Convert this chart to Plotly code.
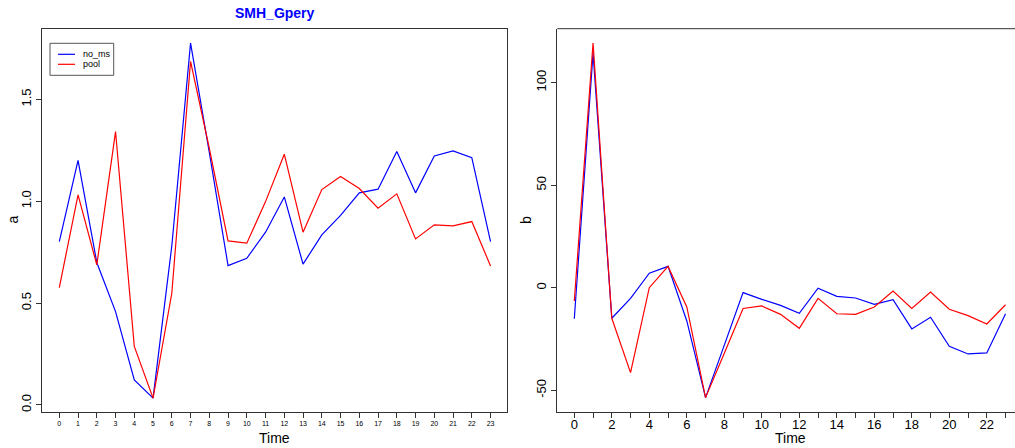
import plotly.graph_objects as go

# ---- data -------------------------------------------------------------
time = list(range(24))

a_no_ms = [0.802, 1.201, 0.699, 0.458, 0.123, 0.033, 0.78, 1.776, 1.24, 0.684,
           0.720, 0.848, 1.021, 0.691, 0.835, 0.930, 1.041, 1.059, 1.244, 1.041,
           1.222, 1.247, 1.214, 0.802]
a_pool = [0.576, 1.031, 0.687, 1.342, 0.287, 0.033, 0.548, 1.686, 1.26, 0.805,
          0.794, 0.998, 1.231, 0.848, 1.057, 1.121, 1.062, 0.966, 1.036, 0.815,
          0.884, 0.879, 0.900, 0.682]

b_no_ms = [-15.1, 114.4, -14.9, -5.2, 7.1, 10.4, -16.2, -53.6, -28.0, -2.4,
           -5.7, -8.6, -12.5, -0.2, -4.2, -5.0, -8.1, -5.8, -20.1, -14.4,
           -28.6, -32.3, -31.8, -12.7]
b_pool = [-6.5, 119.3, -14.9, -41.4, 0.0, 10.4, -9.4, -53.6, -32.0, -10.1,
          -8.9, -13.0, -19.8, -5.2, -12.7, -13.0, -9.4, -1.6, -10.1, -2.1,
          -10.5, -13.6, -17.7, -8.3]

a_ticks = [0.0, 0.5, 1.0, 1.5]
b_ticks = [-50, 0, 50, 100]
b_ticktext = ["-50", "0", "50", "100"]

series_names = ["no_ms", "pool"]
series_colors = ["#0000FF", "#FF0000"]

# ---- page geometry (pixels) ------------------------------------------
W, H = 1015, 448
FONT = "Liberation Sans, Arial, Helvetica, sans-serif"
AXC = "#333333"


def px(x):
    return x / W


def py(y):
    return 1 - y / H


top, bottom = 28.7, 412.0
left1, right1 = 42.0, 507.0
left2 = 557.3
x_step = 18.75   # pixels per time unit, both panels
x0_1 = 59.3      # pixel position of time 0, left panel
x0_2 = 574.3     # pixel position of time 0, right panel

fig = go.Figure()

for name, col, ya in zip(series_names, series_colors, [a_no_ms, a_pool]):
    fig.add_trace(go.Scatter(x=time, y=ya, mode="lines", name=name,
                             line=dict(color=col, width=1.2),
                             xaxis="x", yaxis="y", showlegend=False))
for name, col, yb in zip(series_names, series_colors, [b_no_ms, b_pool]):
    fig.add_trace(go.Scatter(x=time, y=yb, mode="lines", name=name,
                             line=dict(color=col, width=1.2),
                             xaxis="x2", yaxis="y2", showlegend=False))

# x ranges derived from the pixel placement of the ticks
xr1 = [(left1 - x0_1) / x_step, (right1 - x0_1) / x_step]
xr2 = [(left2 - x0_2) / x_step, (W - x0_2) / x_step]

axis_common = dict(showgrid=False, zeroline=False, showline=True,
                   linecolor=AXC, linewidth=1, ticks="outside", ticklen=5,
                   tickcolor=AXC)

fig.update_layout(
    width=W, height=H,
    margin=dict(l=0, r=0, t=0, b=0),
    paper_bgcolor="white", plot_bgcolor="white",
    showlegend=False,
    xaxis=dict(domain=[px(left1), px(right1)], range=xr1, anchor="y",
               tickvals=time, ticktext=[str(t) for t in time], mirror=True,
               tickfont=dict(family=FONT, size=7, color="#000000"),
               **axis_common),
    yaxis=dict(domain=[py(bottom), py(top)],
               range=[-0.035, 1.847], anchor="x",
               tickvals=a_ticks, ticktext=[f"{v:.1f}" for v in a_ticks],
               tickangle=-90, mirror=True,
               tickfont=dict(family=FONT, size=13, color="#000000"),
               **axis_common),
    xaxis2=dict(domain=[px(left2), 1.0], range=xr2, anchor="y2",
                tickvals=time,
                ticktext=[str(t) if t % 2 == 0 else "" for t in time],
                ticklabelstandoff=-5,
                tickfont=dict(family=FONT, size=13, color="#000000"),
                **axis_common),
    yaxis2=dict(domain=[py(bottom), py(top)],
                range=[-60.6, 126.3], anchor="x2",
                tickvals=b_ticks, ticktext=b_ticktext, tickangle=-90,
                tickfont=dict(family=FONT, size=13, color="#000000"),
                **axis_common),
)

# top edge of the right panel frame (its right edge lies past the page)
fig.add_shape(type="line", xref="paper", yref="paper",
              x0=px(left2), x1=1.0, y0=py(top), y1=py(top),
              line=dict(color=AXC, width=1))

# legend box for the left panel
lg_l, lg_r, lg_t, lg_b = 50.0, 113.7, 43.3, 75.3
fig.add_shape(type="rect", xref="paper", yref="paper",
              x0=px(lg_l), x1=px(lg_r), y0=py(lg_b), y1=py(lg_t),
              line=dict(color="#555555", width=1), fillcolor="white")
for i, (name, col) in enumerate(zip(series_names, series_colors)):
    yy = 54.3 + 10 * i
    fig.add_shape(type="line", xref="paper", yref="paper",
                  x0=px(58), x1=px(75), y0=py(yy), y1=py(yy),
                  line=dict(color=col, width=1.2))
    fig.add_annotation(text=name, xref="paper", yref="paper",
                       x=px(81), y=py(yy), xanchor="left", yanchor="middle",
                       showarrow=False,
                       font=dict(family=FONT, size=9, color="#000000"))

# titles and axis labels
fig.add_annotation(text="<b>SMH_Gpery</b>", xref="paper", yref="paper",
                   x=px((left1 + right1) / 2), y=py(13),
                   xanchor="center", yanchor="middle", showarrow=False,
                   font=dict(family=FONT, size=14, color="#0000FF"))
for xc in [(left1 + right1) / 2, 790]:
    fig.add_annotation(text="Time", xref="paper", yref="paper",
                       x=px(xc), y=py(438), xanchor="center", yanchor="middle",
                       showarrow=False,
                       font=dict(family=FONT, size=14, color="#000000"))
fig.add_annotation(text="a", xref="paper", yref="paper", x=px(12.5), y=py(220),
                   xanchor="center", yanchor="middle",
                   showarrow=False, textangle=-90,
                   font=dict(family=FONT, size=14, color="#000000"))
fig.add_annotation(text="b", xref="paper", yref="paper", x=px(526), y=py(220),
                   xanchor="center", yanchor="middle",
                   showarrow=False, textangle=-90,
                   font=dict(family=FONT, size=14, color="#000000"))

fig.write_html("out.html")
